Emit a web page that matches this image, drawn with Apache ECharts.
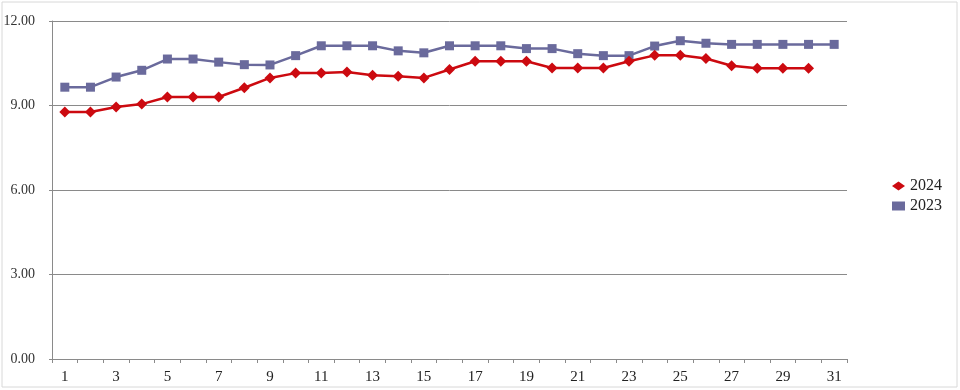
<!DOCTYPE html>
<html>
<head>
<meta charset="utf-8">
<script src="https://cdn.jsdelivr.net/npm/echarts@6/dist/echarts.min.js"></script>
<style>
html,body{margin:0;padding:0;background:#fff;}
#chart{width:960px;height:390px;}
</style>
</head>
<body>
<div id="chart"></div>
<script>
var categories = ['1','2','3','4','5','6','7','8','9','10','11','12','13','14','15','16','17','18','19','20','21','22','23','24','25','26','27','28','29','30','31'];
var values2024 = [8.77,8.77,8.95,9.05,9.30,9.30,9.30,9.63,9.98,10.15,10.15,10.19,10.07,10.04,9.98,10.28,10.57,10.57,10.57,10.33,10.33,10.33,10.57,10.78,10.78,10.67,10.41,10.32,10.32,10.32];
var values2023 = [9.65,9.65,10.01,10.25,10.65,10.65,10.54,10.45,10.44,10.77,11.12,11.12,11.12,10.94,10.87,11.12,11.12,11.12,11.02,11.02,10.84,10.77,10.77,11.11,11.30,11.21,11.17,11.17,11.17,11.17,11.17];
var yTicks = [0, 3, 6, 9, 12];

var chart = echarts.init(document.getElementById('chart'), null, {renderer: 'canvas'});
var serif = '"Liberation Serif", "DejaVu Serif", serif';
chart.setOption({
  animation: false,
  backgroundColor: '#ffffff',
  graphic: [{
    type: 'rect',
    shape: {x: 2, y: 2, width: 955, height: 385},
    style: {fill: 'none', stroke: '#d8d8d8', lineWidth: 1},
    silent: true
  }],
  grid: {left: 52, right: 113, top: 21, bottom: 31, containLabel: false},
  legend: {
    orient: 'vertical',
    left: 887,
    top: 173,
    itemWidth: 13,
    itemHeight: 9,
    itemGap: 4,
    textStyle: {fontFamily: serif, fontSize: 16, color: '#222'},
    data: [
      {name: '2024', icon: 'diamond'},
      {name: '2023', icon: 'rect'}
    ]
  },
  xAxis: {
    type: 'category',
    data: categories,
    boundaryGap: true,
    axisLine: {lineStyle: {color: '#8a8a8a', width: 1}},
    axisTick: {show: true, interval: 0, length: 4, lineStyle: {color: '#8a8a8a'}},
    axisLabel: {interval: 1, fontFamily: serif, fontSize: 15, color: '#222', margin: 11},
    splitLine: {show: false}
  },
  yAxis: {
    type: 'value',
    min: yTicks[0],
    max: yTicks[yTicks.length - 1],
    interval: 3,
    axisLine: {show: true, lineStyle: {color: '#8a8a8a', width: 1}},
    axisTick: {show: true, length: 3, lineStyle: {color: '#8a8a8a'}},
    axisLabel: {
      fontFamily: serif, fontSize: 14, color: '#333', margin: 17,
      formatter: function (v) { return v.toFixed(2); }
    },
    splitLine: {show: true, lineStyle: {color: '#8a8a8a', width: 1}}
  },
  series: [
    {
      name: '2024',
      type: 'line',
      data: values2024,
      symbol: 'diamond',
      symbolSize: 11,
      itemStyle: {color: '#cc0a10'},
      lineStyle: {color: '#cc0a10', width: 2.5},
      z: 3
    },
    {
      name: '2023',
      type: 'line',
      data: values2023,
      symbol: 'rect',
      symbolSize: 9,
      itemStyle: {color: '#6a6a9c'},
      lineStyle: {color: '#6a6a9c', width: 2.5},
      z: 2
    }
  ]
});
</script>
</body>
</html>
